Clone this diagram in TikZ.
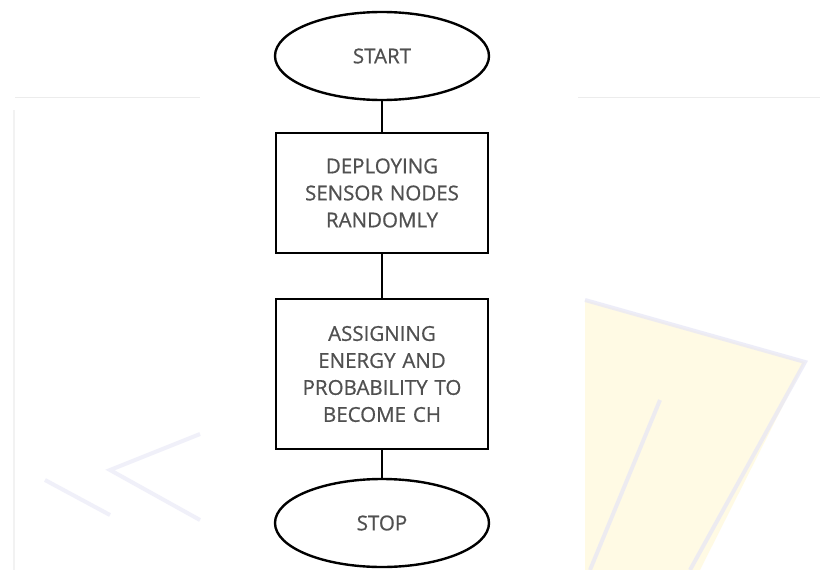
\documentclass[tikz,border=0pt]{standalone}
\usepackage{fontspec}
\setmainfont{Open Sans}[FakeBold=0.7, WordSpace=0.8]
\usetikzlibrary{shapes.geometric}
\definecolor{txtgray}{HTML}{505050}
\definecolor{wmyellow}{HTML}{FFF8D2}
\definecolor{wmlav}{HTML}{E6E6F6}
\begin{document}
\begin{tikzpicture}[x=1pt,y=-1pt,
  term/.style={draw=black, line width=2.4pt, ellipse, minimum width=214pt, minimum height=88pt, inner sep=0pt, text=txtgray, font=\fontsize{20.5}{27}\selectfont},
  proc/.style={draw=black, line width=2.4pt, rectangle, minimum width=212pt, text width=205pt, align=center, inner sep=0pt, text=txtgray, font=\fontsize{20.5}{27}\selectfont},
  link/.style={line width=2.4pt}]
\fill[white] (0,0) rectangle (830,570);
\useasboundingbox (0,0) rectangle (830,570);
% faint watermark background
\fill[wmyellow, opacity=0.6] (585,300) -- (805,362) -- (700,570) -- (585,570) -- cycle;
\draw[wmlav, line width=4pt, opacity=0.7] (585,300) -- (805,362) -- (690,570);
\draw[wmlav, line width=4pt, opacity=0.7] (660,400) -- (590,570);
\draw[wmlav, line width=4pt, opacity=0.6] (200,434) -- (110,470) -- (200,520);
\draw[wmlav, line width=4pt, opacity=0.6] (45,480) -- (110,515);
\draw[gray!15, line width=1pt] (15,97) -- (200,97);
\draw[gray!15, line width=1pt] (578,97) -- (820,97);
\draw[gray!10, line width=1.5pt] (14,110) -- (14,570);

\node[term] (start) at (382,56) {START};
\node[proc, minimum height=120pt] (deploy) at (382,193) {DEPLOYING\\SENSOR NODES\\RANDOMLY};
\node[proc, minimum height=150pt] (assign) at (382,374) {ASSIGNING\\ENERGY AND\\PROBABILITY TO\\BECOME CH};
\node[term] (stop) at (382,523) {STOP};

\draw[link] (start) -- (deploy);
\draw[link] (deploy) -- (assign);
\draw[link] (assign) -- (stop);
\end{tikzpicture}
\end{document}
